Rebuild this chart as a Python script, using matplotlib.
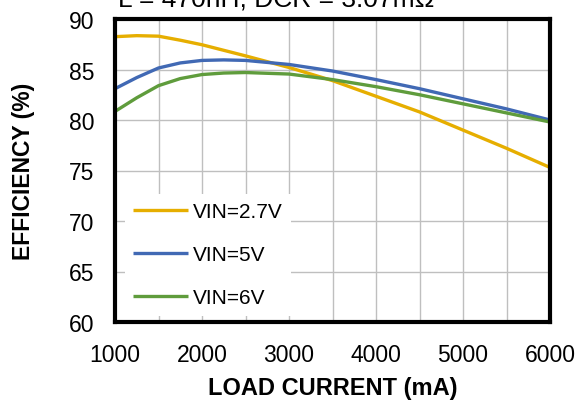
import matplotlib
matplotlib.use("Agg")
import matplotlib.pyplot as plt

plt.rcParams['font.family'] = ['Liberation Sans', 'DejaVu Sans']

load_current = [1000, 1250, 1500, 1750, 2000, 2250, 2500, 3000, 3500, 4000, 4500, 5000, 5500, 6000]
eff_27 = [88.25, 88.35, 88.3, 87.9, 87.45, 86.9, 86.35, 85.2, 83.9, 82.35, 80.8, 79.0, 77.2, 75.3]
eff_5 = [83.1, 84.2, 85.15, 85.65, 85.9, 85.95, 85.9, 85.5, 84.85, 84.0, 83.1, 82.1, 81.1, 80.0]
eff_6 = [80.85, 82.2, 83.4, 84.1, 84.5, 84.65, 84.7, 84.55, 84.0, 83.3, 82.5, 81.6, 80.7, 79.8]
labels = ["VIN=2.7V", "VIN=5V", "VIN=6V"]
colors = ["#E6AE00", "#4169B4", "#5F9C3C"]
title = "L = 470nH, DCR = 3.07m\u03a9"
xticks = [1000, 2000, 3000, 4000, 5000, 6000]
yticks = [60, 65, 70, 75, 80, 85, 90]

fig = plt.figure(figsize=(5.77, 4.02), dpi=100)
ax = fig.add_axes([115/577, 1-323/402, (550-115)/577, (323-20)/402])

for y, lab, c in zip([eff_27, eff_5, eff_6], labels, colors):
    ax.plot(load_current, y, color=c, lw=2.4, label=lab, solid_capstyle='butt',
            solid_joinstyle='round', zorder=3)

ax.set_xlim(1000, 6000)
ax.set_ylim(60, 90)
ax.set_xticks(xticks)
ax.set_xticks(range(1000, 6001, 500), minor=True)
ax.set_yticks(yticks)
ax.grid(True, which='both', color='#BFBFBF', lw=1.0)
ax.set_axisbelow(True)
ax.tick_params(which='both', length=0, labelsize=16.5)
ax.tick_params(axis='y', pad=15)
ax.tick_params(axis='x', pad=15)
for s in ax.spines.values():
    s.set_linewidth(3)
    s.set_color('black')
    s.set_zorder(5)

ax.set_xlabel("LOAD CURRENT (mA)", fontsize=17, fontweight='bold', labelpad=7)
ax.set_ylabel("EFFICIENCY (%)", fontsize=16.5, fontweight='bold', labelpad=24)

leg = ax.legend(loc='lower left', bbox_to_anchor=(0.009, 0.0), frameon=True, fontsize=15,
                handlelength=2.6, handletextpad=0.25, labelspacing=1.15,
                borderaxespad=0.3, borderpad=0.4)
leg.get_frame().set_edgecolor('none')
leg.get_frame().set_facecolor('white')
leg.get_frame().set_alpha(1)
leg.get_frame().set_boxstyle('square', pad=0)

fig.text(276/577, 1-7/402, title, fontsize=19, ha='center', va='baseline')

fig.savefig("out.png", dpi=100)
